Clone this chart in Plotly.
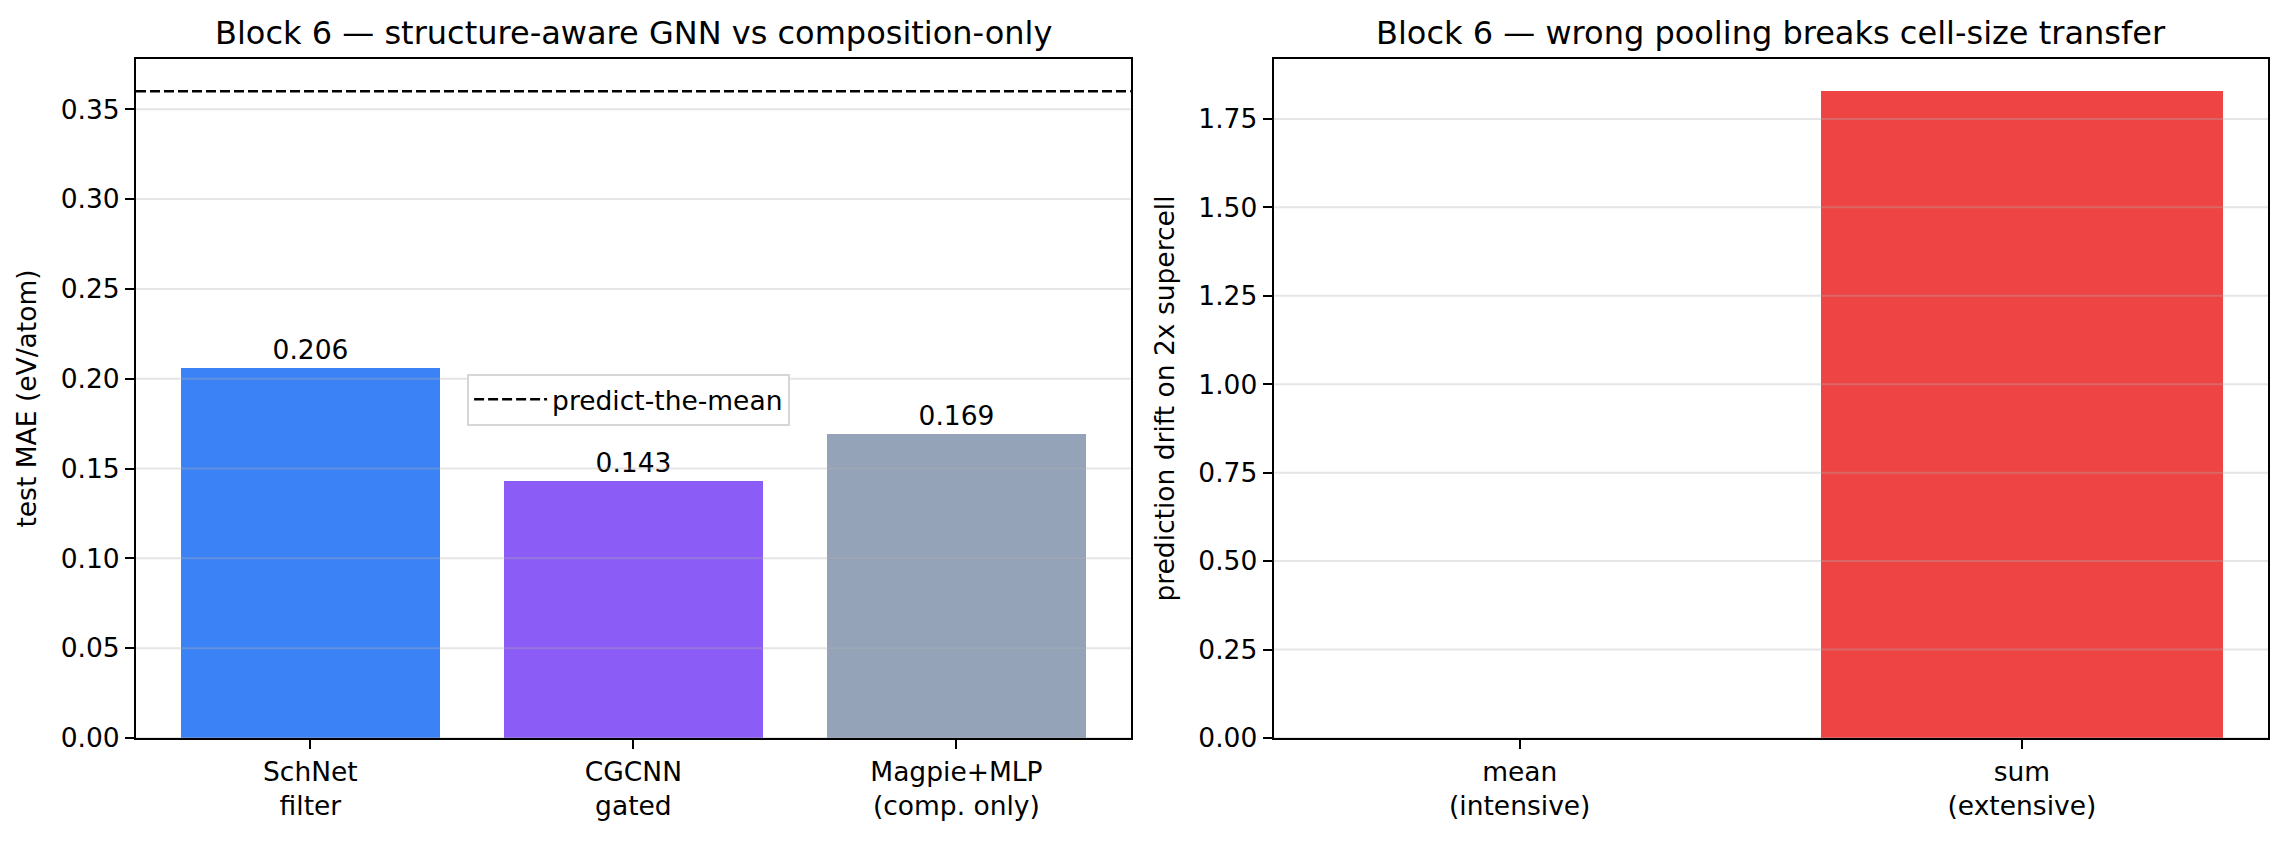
import plotly.graph_objects as go

# ---- data ----
models = ["SchNet<br>filter", "CGCNN<br>gated", "Magpie+MLP<br>(comp. only)"]
mae = [0.206, 0.143, 0.169]
mae_labels = ["0.206", "0.143", "0.169"]
model_colors = ["#3b82f6", "#8b5cf6", "#94a3b8"]
baseline_mae = 0.36

pooling = ["mean<br>(intensive)", "sum<br>(extensive)"]
drift = [0.0, 1.828]
pool_colors = ["#3b82f6", "#ef4444"]

left_ticks = [0.0, 0.05, 0.10, 0.15, 0.20, 0.25, 0.30, 0.35]
right_ticks = [0.0, 0.25, 0.50, 0.75, 1.00, 1.25, 1.50, 1.75]

title_left = "Block 6 — structure-aware GNN vs composition-only"
title_right = "Block 6 — wrong pooling breaks cell-size transfer"

FONT = "DejaVu Sans"
TICK = 26.5
LABEL = 26.5
TITLE = 32

fig = go.Figure()

fig.add_trace(go.Bar(
    x=[0, 1, 2], y=mae, width=0.8, marker=dict(color=model_colors, line=dict(width=0)),
    text=mae_labels, textposition="outside", cliponaxis=False,
    textfont=dict(family=FONT, size=LABEL, color="black"),
    xaxis="x", yaxis="y", showlegend=False, hoverinfo="skip",
))
fig.add_trace(go.Bar(
    x=[0, 1], y=drift, width=0.8, marker=dict(color=pool_colors, line=dict(width=0)),
    xaxis="x2", yaxis="y2", showlegend=False, hoverinfo="skip",
))

# baseline dashed line with legend entry
fig.add_shape(type="line", xref="x domain", yref="y", x0=0, x1=1,
              y0=baseline_mae, y1=baseline_mae,
              line=dict(color="black", width=2.5, dash="10px,4px"),
              layer="above", showlegend=True, name="predict-the-mean")

# gridlines above bars (matplotlib style)
for t in left_ticks:
    fig.add_shape(type="line", xref="x domain", yref="y", x0=0, x1=1, y0=t, y1=t,
                  line=dict(color="rgba(176,176,176,0.33)", width=2), layer="above")
for t in right_ticks:
    fig.add_shape(type="line", xref="x2 domain", yref="y2", x0=0, x1=1, y0=t, y1=t,
                  line=dict(color="rgba(176,176,176,0.33)", width=2), layer="above")

axis_common = dict(showline=True, linecolor="black", linewidth=2, mirror=True,
                   ticks="outside", ticklen=9, tickwidth=2, tickcolor="black",
                   showgrid=False, zeroline=False,
                   tickfont=dict(family=FONT, size=TICK, color="black"))

fig.update_layout(
    width=2287, height=842,
    paper_bgcolor="white", plot_bgcolor="white",
    margin=dict(l=136, r=19, t=59, b=104),
    font=dict(family=FONT, color="black"),
    bargap=0,
    xaxis=dict(domain=[0, 0.4666], range=[-0.54, 2.54], tickmode="array",
               tickvals=[0, 1, 2], ticktext=models, **axis_common),
    yaxis=dict(range=[0, 0.378], tickmode="array", tickvals=left_ticks,
               ticktext=[f"{v:.2f}" for v in left_ticks],
               title=dict(text="test MAE (eV/atom)", font=dict(family=FONT, size=LABEL), standoff=16),
               **axis_common),
    xaxis2=dict(domain=[0.5336, 1], range=[-0.49, 1.49], tickmode="array",
                tickvals=[0, 1], ticktext=pooling, anchor="y2", **axis_common),
    yaxis2=dict(range=[0, 1.9194], tickmode="array", tickvals=right_ticks,
                ticktext=[f"{v:.2f}" for v in right_ticks], anchor="x2",
                title=dict(text="prediction drift on 2x supercell", font=dict(family=FONT, size=LABEL), standoff=16),
                **axis_common),
    legend=dict(x=0.1553, y=0.5366, xanchor="left", yanchor="top",
                bgcolor="white", bordercolor="#d6d6d6", borderwidth=2,
                itemwidth=73, tracegroupgap=0,
                font=dict(family=FONT, size=LABEL, color="black")),
    annotations=[
        dict(text=title_left, x=0.2333, y=1, xref="paper", yref="paper",
             xanchor="center", yanchor="bottom", yshift=5, showarrow=False,
             font=dict(family=FONT, size=TITLE, color="black")),
        dict(text=title_right, x=0.7668, y=1, xref="paper", yref="paper",
             xanchor="center", yanchor="bottom", yshift=5, showarrow=False,
             font=dict(family=FONT, size=TITLE, color="black")),
    ],
)

fig.write_html("out.html", config={"displayModeBar": False},
               post_script="document.body.style.margin='0';")
